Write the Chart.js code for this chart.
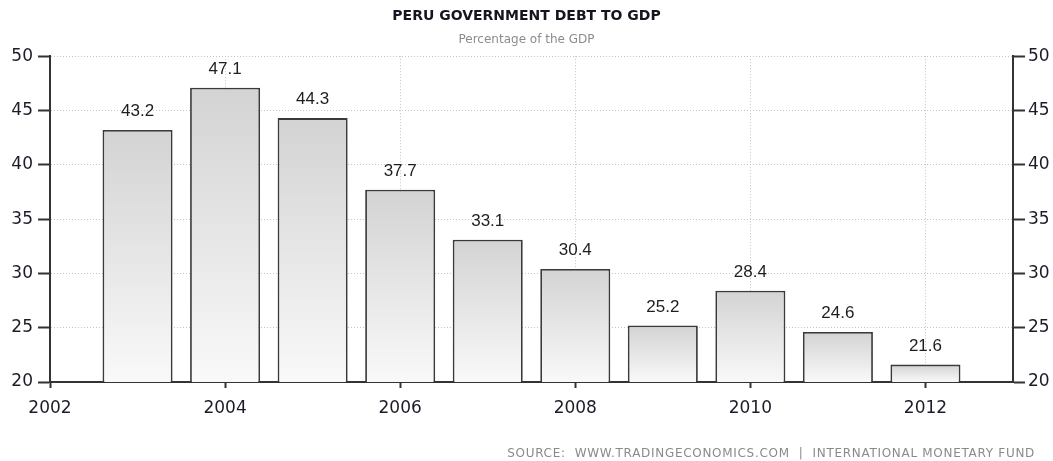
<!DOCTYPE html>
<html lang="en">
<head>
<meta charset="UTF-8">
<title>Peru Government Debt to GDP</title>
<script src="https://cdn.jsdelivr.net/npm/chart.js"></script>
<style>
  body { margin: 0; background: #fff; }
  #wrap { position: relative; width: 1053px; height: 461px; }
</style>
</head>
<body>
<div id="wrap"><canvas id="chart"></canvas></div>
<script>
// data
const years = [2003, 2004, 2005, 2006, 2007, 2008, 2009, 2010, 2011, 2012];
const debt = [43.2, 47.1, 44.3, 37.7, 33.1, 30.4, 25.2, 28.4, 24.6, 21.6];
const yearTicks = [2002, 2004, 2006, 2008, 2010, 2012];
const valueTicks = [20, 25, 30, 35, 40, 45, 50];

const AXIS = '#333333';
const TICK_TEXT = '#1c1c28';

// per-bar vertical gradient, darker at the top
function barFill(ctx) {
    const chart = ctx.chart;
    const y = chart.scales.y;
    if (!chart.chartArea || !y || !ctx.parsed) return '#e2e2e2';
    const top = y.getPixelForValue(ctx.parsed.y);
    const bottom = y.getPixelForValue(valueTicks[0]);
    const g = chart.ctx.createLinearGradient(0, top, 0, bottom);
    g.addColorStop(0, '#d3d3d3');
    g.addColorStop(1, '#f9f9f9');
    return g;
}

const valueLabels = {
    id: 'valueLabels',
    afterDatasetsDraw(chart) {
        const ctx = chart.ctx;
        const meta = chart.getDatasetMeta(0);
        ctx.save();
        ctx.font = '17px "Liberation Sans", Arial, sans-serif';
        ctx.fillStyle = '#1e1e1e';
        ctx.textAlign = 'center';
        ctx.textBaseline = 'bottom';
        meta.data.forEach((bar, i) => {
            ctx.fillText(debt[i].toFixed(1), bar.x, bar.y - 10);
        });
        ctx.restore();
    }
};

const sourceNote = {
    id: 'sourceNote',
    afterDraw(chart) {
        const ctx = chart.ctx;
        ctx.save();
        ctx.font = '12px "DejaVu Sans", sans-serif';
        ctx.letterSpacing = '0.7px';
        ctx.fillStyle = '#8a8a8a';
        ctx.textAlign = 'right';
        ctx.textBaseline = 'middle';
        ctx.fillText('SOURCE:  WWW.TRADINGECONOMICS.COM  |  INTERNATIONAL MONETARY FUND', 1035, 454);
        ctx.restore();
    }
};

const yAxisCommon = {
    type: 'linear',
    min: valueTicks[0],
    max: valueTicks[valueTicks.length - 1],
    afterBuildTicks: scale => { scale.ticks = valueTicks.map(v => ({ value: v })); },
    ticks: {
        color: TICK_TEXT,
        font: { family: '"DejaVu Sans", Verdana, sans-serif', size: 17 }
    },
    border: { color: AXIS, width: 2, dash: [1, 2] },
    grid: {
        color: '#c4c4c4',
        lineWidth: 1,
        tickLength: 12,
        tickColor: AXIS,
        tickWidth: 2,
        tickBorderDash: []
    }
};

new Chart(document.getElementById('chart'), {
    type: 'bar',
    data: {
        datasets: [{
            data: years.map((yr, i) => ({ x: yr, y: debt[i] })),
            backgroundColor: barFill,
            borderColor: '#3a3a3a',
            borderWidth: 1.8,
            borderSkipped: false,
            barPercentage: 0.8,
            categoryPercentage: 1
        }]
    },
    options: {
        responsive: true,
        maintainAspectRatio: false,
        animation: false,
        layout: { padding: 0 },
        plugins: {
            legend: { display: false },
            tooltip: { enabled: false },
            title: {
                display: true,
                text: 'PERU GOVERNMENT DEBT TO GDP',
                color: '#15151f',
                font: { family: '"DejaVu Sans", Verdana, sans-serif', size: 14, weight: 'bold' },
                padding: { top: 8, bottom: 8 }
            },
            subtitle: {
                display: true,
                text: 'Percentage of the GDP',
                color: '#8c8c8c',
                font: { family: '"DejaVu Sans", Verdana, sans-serif', size: 12 },
                padding: { top: 0, bottom: 9 }
            }
        },
        scales: {
            x: {
                type: 'linear',
                min: 2002,
                max: 2013,
                offset: false,
                afterBuildTicks: scale => { scale.ticks = yearTicks.map(v => ({ value: v })); },
                afterFit: scale => { scale.height = 79; },
                ticks: {
                    color: TICK_TEXT,
                    padding: 10,
                    maxRotation: 0,
                    font: { family: '"DejaVu Sans", Verdana, sans-serif', size: 17 },
                    callback: v => String(v)
                },
                border: { color: AXIS, width: 2, dash: [1, 2] },
                grid: {
                    offset: false,
                    color: '#c4c4c4',
                    lineWidth: 1,
                    tickLength: 6,
                    tickColor: AXIS,
                    tickWidth: 2,
                    tickBorderDash: []
                }
            },
            y: Object.assign({}, yAxisCommon, {
                position: 'left',
                afterFit: scale => { scale.width = 50; },
                ticks: Object.assign({}, yAxisCommon.ticks, { padding: 5 })
            }),
            y2: Object.assign({}, yAxisCommon, {
                position: 'right',
                afterFit: scale => { scale.width = 40; },
                ticks: Object.assign({}, yAxisCommon.ticks, { padding: 3 }),
                grid: Object.assign({}, yAxisCommon.grid, { drawOnChartArea: false })
            })
        }
    },
    plugins: [valueLabels, sourceNote]
});
</script>
</body>
</html>
